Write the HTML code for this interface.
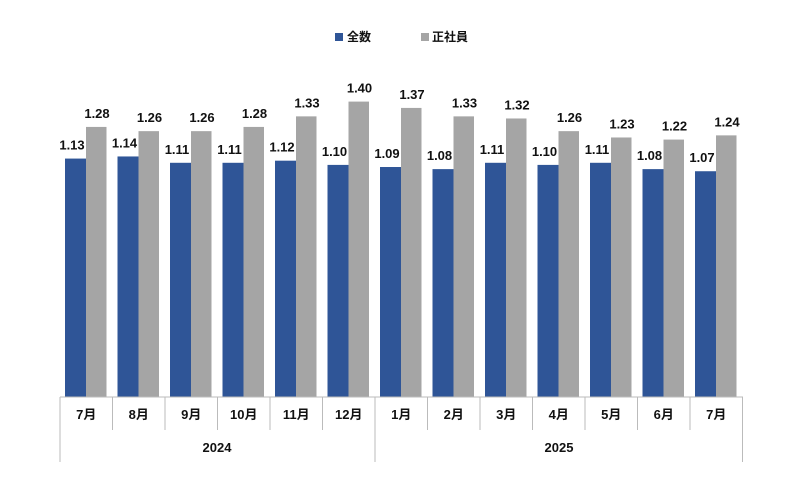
<!DOCTYPE html>
<html><head><meta charset="utf-8"><style>
html,body{margin:0;padding:0;background:#fff;}
svg{display:block;font-family:"Liberation Sans","Noto Sans CJK JP",sans-serif;font-weight:bold;}
</style></head><body>
<svg width="800" height="493" viewBox="0 0 800 493" xmlns="http://www.w3.org/2000/svg">
<rect x="335" y="33" width="8" height="8" fill="#2F5597"/>
<text x="347" y="41" font-size="12" fill="#111">全数</text>
<rect x="421" y="33" width="8" height="8" fill="#A5A5A5"/>
<text x="432" y="41" font-size="12" fill="#111">正社員</text>
<g id="bars"></g>
<line x1="60" y1="397" x2="743" y2="397" stroke="#bbb" stroke-width="1"/>
<g id="axis" stroke="#bbb" stroke-width="1"></g>
<g id="labels" font-size="12" fill="#111" text-anchor="middle"></g>
<text x="217" y="452" font-size="13" text-anchor="middle" fill="#111">2024</text>
<text x="559" y="452" font-size="13" text-anchor="middle" fill="#111">2025</text>
</svg>
<script>
var a=[1.13,1.14,1.11,1.11,1.12,1.10,1.09,1.08,1.11,1.10,1.11,1.08,1.07];
var b=[1.28,1.26,1.26,1.28,1.33,1.40,1.37,1.33,1.32,1.26,1.23,1.22,1.24];
var m=["7月","8月","9月","10月","11月","12月","1月","2月","3月","4月","5月","6月","7月"];
var ns="http://www.w3.org/2000/svg",s=211,base=397,w=52.5;
function el(t,at,p,txt){var e=document.createElementNS(ns,t);for(var k in at)e.setAttribute(k,at[k]);if(txt)e.textContent=txt;document.getElementById(p).appendChild(e);}
for(var i=0;i<13;i++){
 var x=60+i*w;
 var ha=a[i]*s, hb=b[i]*s;
 el("rect",{x:x+5,y:base-ha,width:21,height:ha,fill:"#2F5597"},"bars");
 el("rect",{x:x+26,y:base-hb,width:20.5,height:hb,fill:"#A5A5A5"},"bars");
 el("text",{x:x+12,y:base-ha-9,"font-size":13},"labels",a[i].toFixed(2));
 el("text",{x:x+37,y:base-hb-9,"font-size":13},"labels",b[i].toFixed(2));
 el("text",{x:x+w/2,y:419,"font-size":13},"labels",m[i]);
}
for(var i=0;i<=13;i++){
 var x=60+i*w, y2=(i==0||i==6||i==13)?462:430;
 el("line",{x1:x,y1:397,x2:x,y2:y2},"axis");
}
</script>
</body></html>
